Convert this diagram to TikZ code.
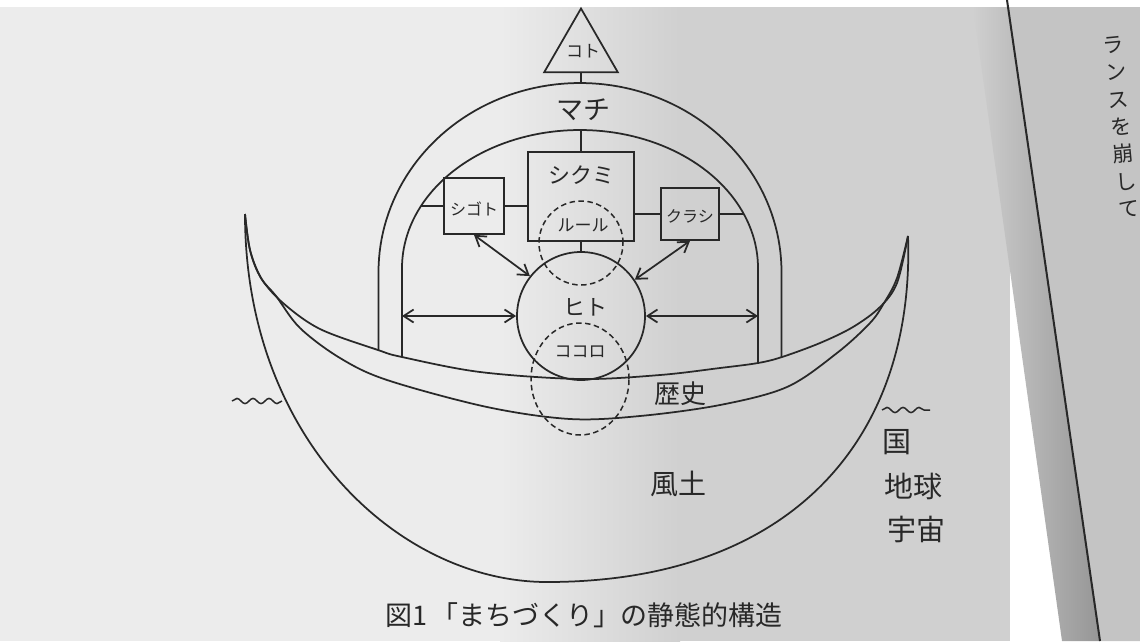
\documentclass[tikz,border=0pt]{standalone}
\usepackage{fontspec}
\setmainfont{Noto Sans CJK JP}
\usetikzlibrary{arrows.meta,shapes.geometric,decorations.pathmorphing}
\definecolor{pA}{RGB}{236,236,236}
\definecolor{pB}{RGB}{208,208,208}
\definecolor{gut}{RGB}{150,150,150}
\definecolor{pR}{RGB}{196,196,196}
\definecolor{ink}{RGB}{40,40,40}
\newcommand\myfs[1]{\fontsize{#1}{#1}\selectfont}
\begin{document}
\begin{tikzpicture}[x=1pt,y=-1pt,
  ln/.style={line width=1.75pt, draw=ink},
  dsh/.style={line width=1.5pt, draw=ink, dash pattern=on 5.5pt off 3.5pt},
  box/.style={ln, rectangle, inner sep=0pt},
  lbl/.style={inner sep=0pt, text=ink},
  dbl/.style={ln, {Straight Barb[length=10pt,width=13pt]}-{Straight Barb[length=10pt,width=13pt]}},
  wave/.style={line width=1.5pt, draw=ink, decorate, decoration={snake, segment length=16pt, amplitude=2.6pt}},
]
\useasboundingbox (0,0) rectangle (1140,641);
% paper background
\fill[pA] (0,0) rectangle (500,641);
\shade[left color=pA, right color=pB] (500,0) rectangle (680,641);
\fill[pB] (680,0) rectangle (1010,641);
\shade[left color=pB, right color=gut] (972,0) -- (1007,0) -- (1100,641) -- (1062,641) -- cycle;
\fill[pR] (1007,0) -- (1140,0) -- (1140,641) -- (1100,641) -- cycle;
\fill[white] (0,0) rectangle (1140,7);
\coordinate (pgT) at (1007,0);
\coordinate (pgB) at (1100,641);
\draw[line width=2pt, draw=ink] (pgT) -- (pgB);
\node[lbl, rotate=5.5, align=center, font=\fontsize{21pt}{27.5pt}\selectfont] (nextpage) at (1121,127) {ラ\\ン\\ス\\を\\崩\\し\\て};

% hull
\coordinate (LT) at (245,214);
\coordinate (RT) at (908,236);
\coordinate (BOT) at (547,582);
\draw[ln] (LT) .. controls (245,440) and (400,582) .. (BOT) .. controls (790,582) and (915,440) .. (RT);
% deck lines
\draw[ln] plot[smooth, tension=0.55] coordinates {(245,214) (250,250) (261,278) (283,303) (320,329) (378,350) (402,357) (480,372) (580,379) (660,375) (720,368) (758,363) (782,357) (820,343) (853,327) (880,307) (897,283) (908,236)};
\draw[ln] plot[smooth, tension=0.55] coordinates {(245,214) (250,250) (261,278) (276,296) (300,328) (340,358) (387,380) (487,407) (570,419) (640,416) (720,405) (787,387) (837,353) (870,323) (884,303) (897,278) (908,236)};

% arches
\draw[ln] (378.5,350) -- (378.5,272) -- plot[domain=180:360,samples=90] ({580+201.5*cos(\x)},{272+189*sin(\x)}) -- (781.5,357);
\draw[ln] (402,357) -- (402,268) -- plot[domain=180:360,samples=90] ({580+178*cos(\x)},{268+138*sin(\x)}) -- (758,363);
\coordinate (oTop) at (581,83);
\coordinate (iTop) at (581,130);
\coordinate (sigL) at (421,206);
\coordinate (kurR) at (743.8,214);
\coordinate (aL) at (402,316);
\coordinate (aR) at (758,316);

% koto
\node[ln, regular polygon, regular polygon sides=3, minimum size=85pt, inner sep=0pt] (koto) at (581,51) {};
\node[lbl, font=\myfs{17pt}] (kotoL) at (583,51) {コト};
\draw[ln] (koto.south) -- (oTop);
\node[lbl, font=\myfs{27pt}] (machi) at (583,110) {マチ};

% boxes
\node[box, minimum width=106pt, minimum height=89pt] (shikumi) at (581,196.5) {};
\node[lbl, font=\myfs{22pt}] (shikumiL) at (581,175) {シクミ};
\node[box, minimum width=60pt, minimum height=56pt] (sigoto) at (474,206) {};
\node[lbl, font=\myfs{16pt}] (sigotoL) at (474,209) {シゴト};
\node[box, minimum width=58pt, minimum height=52pt] (kurashi) at (690,214) {};
\node[lbl, font=\myfs{16pt}] (kurashiL) at (690,216) {クラシ};
\draw[ln] (iTop) -- (shikumi.north);
\draw[ln] (sigL) -- (sigoto.west);
\draw[ln] (sigoto.east) -- (shikumi.west |- sigoto.east);
\draw[ln] (shikumi.east |- kurashi.west) -- (kurashi.west);
\draw[ln] (kurashi.east) -- (kurR);

% circles
\node[ln, circle, minimum size=128pt, inner sep=0pt] (hito) at (581,316) {};
\node[lbl, font=\myfs{22pt}] (hitoL) at (585,307) {ヒト};
\draw[ln] (shikumi.south) -- (hito.north);
\node[dsh, circle, minimum size=84pt, inner sep=0pt] (rule) at (581,243) {};
\node[lbl, font=\myfs{17pt}] (ruleL) at (583,225) {ルール};
\node[dsh, ellipse, minimum width=98pt, minimum height=112pt, inner sep=0pt] (kokoro) at (580,379) {};
\node[lbl, font=\myfs{17pt}] (kokoroL) at (580,352) {ココロ};

% arrows
\draw[dbl] (aL) -- (hito.west);
\draw[dbl] (hito.east) -- (aR);
\draw[dbl] (sigoto.south) -- (hito.142);
\draw[dbl] (kurashi.south) -- (hito.34);

% waves
\coordinate (wL1) at (232,401);
\coordinate (wL2) at (282,401);
\draw[wave] (wL1) -- (wL2);
\coordinate (wR1) at (882,410);
\coordinate (wR2) at (930,410);
\draw[wave] (wR1) -- (wR2);

% labels
\node[lbl, font=\myfs{26pt}] (rekishi) at (680,394) {歴史};
\node[lbl, font=\myfs{28pt}] (fudo) at (678,484) {風土};
\node[lbl, font=\myfs{29pt}, anchor=west] (kuni) at (882,442) {国};
\node[lbl, font=\myfs{29pt}, anchor=west] (chikyu) at (884,486) {地球};
\node[lbl, font=\myfs{29pt}, anchor=west] (uchu) at (887,529) {宇宙};
\node[lbl, font=\myfs{27pt}] (caption) at (584,615) {図1\,「まちづくり」の静態的構造};
\end{tikzpicture}
\end{document}
